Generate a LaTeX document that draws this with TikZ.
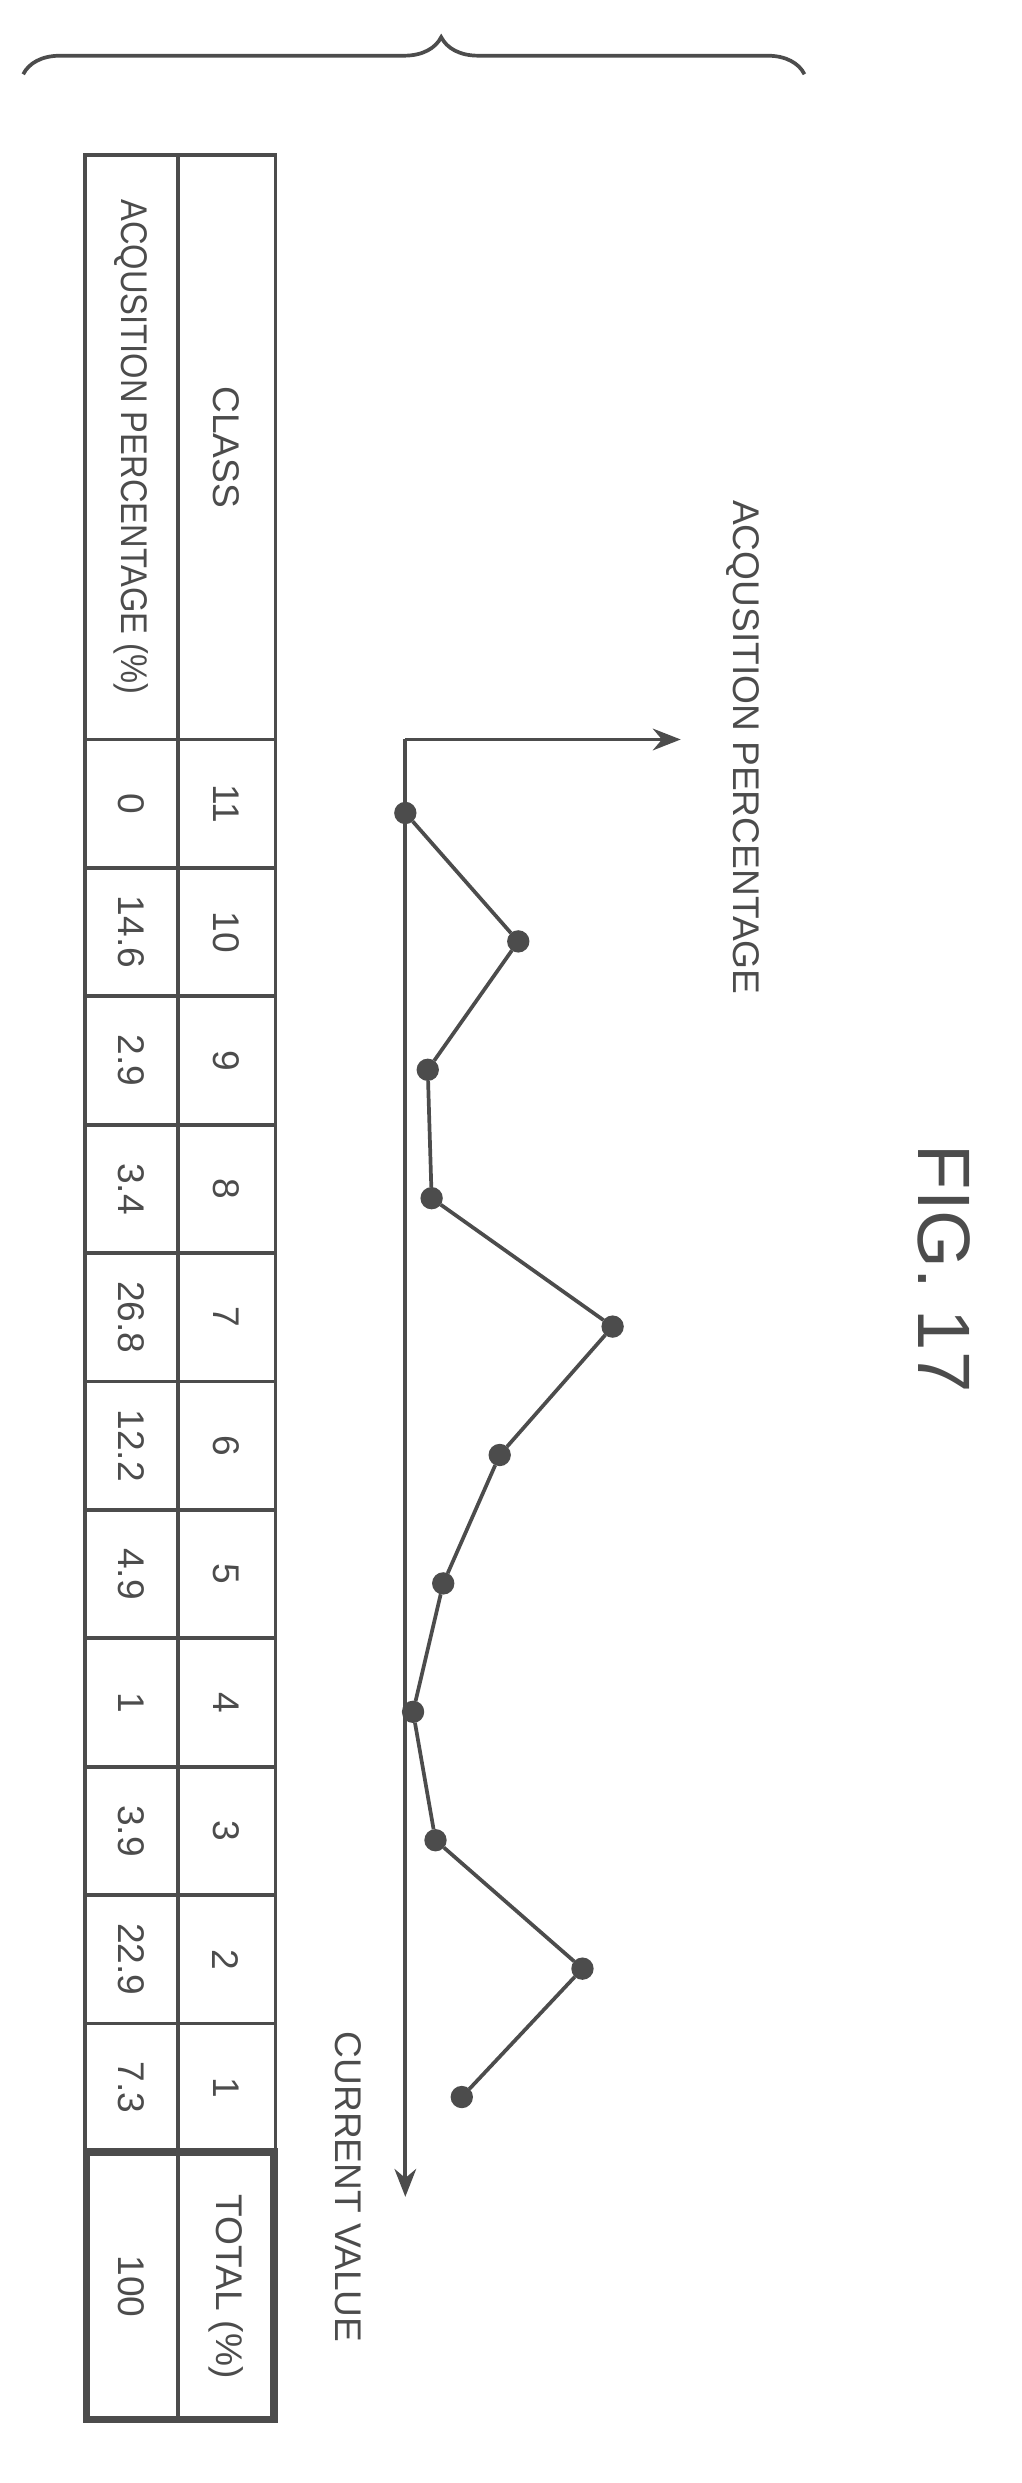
\documentclass[tikz,border=0pt]{standalone}
\usepackage{fontspec}
\setmainfont{Liberation Sans}
\usetikzlibrary{decorations.pathreplacing,arrows.meta}
\definecolor{ink}{gray}{0.3}
\tikzset{
  txt/.style = {rotate=-90, font=\fontsize{12}{14}\selectfont, text=ink, inner sep=0pt},
  dot/.style = {circle, fill=ink, draw=ink, inner sep=0pt, minimum size=6pt},
  ax/.style = {ink, line width=1.2pt, -{Stealth[length=9pt,width=7pt]}},
}
\begin{document}
\begin{tikzpicture}[x=0.5pt, y=-0.5pt, ink, line width=1.2pt]
\useasboundingbox (0,0) rectangle (660,1605);
% brace
\draw[decorate, decoration={brace, amplitude=12pt, aspect=0.535}] (15,48) -- (520,48);
\node[txt, font=\fontsize{24}{26}\selectfont] (fig) at (610,820) {FIG. 17};
% table
\draw (55,100) rectangle (178,1565);
\draw (115,100) -- (115,1565);
\draw (55,478) -- (178,478);
\node[txt] (hclass) at (146,289) {CLASS};
\node[txt, xscale=0.88] (hpct) at (85,289) {ACQUSITION PERCENTAGE (\%)};
\foreach \c/\v [count=\i from 0] in {11/0,10/14.6,9/2.9,8/3.4,7/26.8,6/12.2,5/4.9,4/1,3/3.9,2/22.9,1/7.3} {
  \pgfmathsetmacro\ya{478+\i*83}
  \pgfmathsetmacro\yb{\ya+83}
  \draw (55,\yb) -- (178,\yb);
  \node[txt] (c\c) at (146,{(\ya+\yb)/2}) {\c};
  \node[txt] (v\c) at (85,{(\ya+\yb)/2}) {\v};
  \node[dot] (p\c) at ({262+5*\v},{(\ya+\yb)/2+6}) {};
}
\draw[line width=2.4pt] (56,1391) rectangle (177,1564);
\draw (115,1391) -- (115,1565);
\node[txt] (ctot) at (146,1478) {TOTAL (\%)};
\node[txt] (vtot) at (85,1478) {100};
% graph
\coordinate (o) at (262,478);
\coordinate (xend) at (262,1420);
\coordinate (yend) at (440,478);
\draw[ax] (o) -- (xend);
\draw[ax] (o) -- (yend);
\node[txt, anchor=west] (ylab) at (480,322) {ACQUSITION PERCENTAGE};
\node[txt, anchor=west] (xlab) at (225,1312) {CURRENT VALUE};
\draw (p11) -- (p10) -- (p9) -- (p8) -- (p7) -- (p6) -- (p5) -- (p4) -- (p3) -- (p2) -- (p1);
\end{tikzpicture}
\end{document}
